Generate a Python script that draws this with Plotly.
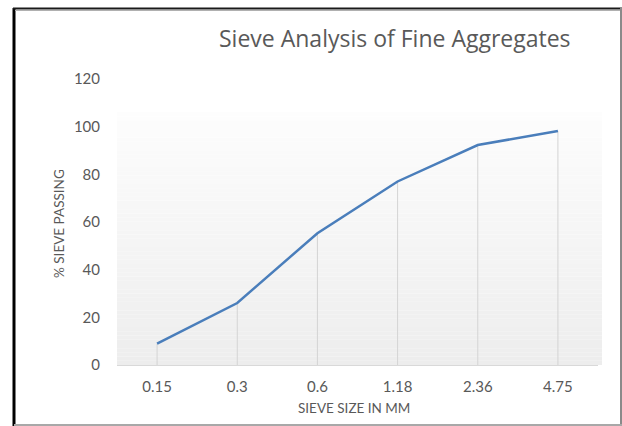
import plotly.graph_objects as go

sieve_sizes = ["0.15", "0.3", "0.6", "1.18", "2.36", "4.75"]
pct_passing = [9, 26, 55.3, 77, 92.3, 98.2]
y_ticks = [0, 20, 40, 60, 80, 100, 120]

W, H = 622, 426
ML, MR, MT, MB = 117, 24, 79, 61
PW, PH = W - ML - MR, H - MT - MB


def px2x(px):
    return (px - ML) / PW


def px2y(py):
    return (H - MB - py) / PH


FONT = "Lato"
GRAY_TXT = "#595959"

fig = go.Figure()

# drop lines
dx, dy = [], []
for c, v in zip(sieve_sizes, pct_passing):
    dx += [c, c, None]
    dy += [0, v, None]
fig.add_trace(go.Scatter(x=dx, y=dy, mode="lines",
                         line=dict(color="#d4d4d4", width=1),
                         hoverinfo="skip", showlegend=False))

fig.add_trace(go.Scatter(x=sieve_sizes, y=pct_passing, mode="lines",
                         line=dict(color="#4a7ebb", width=2.5),
                         showlegend=False))

shapes = []
# gradient plot-area background
n = 60
top_val = 106
for i in range(n):
    v0 = top_val * i / n
    v1 = top_val * (i + 1) / n
    t = (i + 0.5) / n
    g = round(237 + (253 - 237) * t)
    shapes.append(dict(type="rect", xref="paper", yref="y", x0=0, x1=px2x(602),
                       y0=v0, y1=v1, fillcolor=f"rgb({g},{g},{g})",
                       line=dict(width=0), layer="below"))

# outer frame
shapes += [
    dict(type="line", xref="paper", yref="paper", x0=px2x(14), x1=px2x(14),
         y0=px2y(8), y1=px2y(427), line=dict(color="#000000", width=3)),
    dict(type="line", xref="paper", yref="paper", x0=px2x(13), x1=px2x(623),
         y0=px2y(8.5), y1=px2y(8.5), line=dict(color="#1a1a1a", width=2)),
    dict(type="line", xref="paper", yref="paper", x0=px2x(15), x1=px2x(620),
         y0=px2y(10.5), y1=px2y(10.5), line=dict(color="#b0b0b0", width=1)),
    dict(type="line", xref="paper", yref="paper", x0=px2x(621), x1=px2x(621),
         y0=px2y(8), y1=px2y(427), line=dict(color="#8a8a8a", width=2)),
    dict(type="line", xref="paper", yref="paper", x0=px2x(14), x1=px2x(623),
         y0=px2y(425), y1=px2y(425), line=dict(color="#a8a8a8", width=2)),
]

annotations = [
    dict(text="Sieve Analysis of Fine Aggregates", xref="paper", yref="paper",
         x=px2x(395), y=px2y(38), xanchor="center", yanchor="middle",
         showarrow=False, font=dict(family="Open Sans", size=23, color=GRAY_TXT)),
    dict(text="SIEVE SIZE IN MM", xref="paper", yref="paper",
         x=px2x(354), y=px2y(408), xanchor="center", yanchor="middle",
         showarrow=False, font=dict(family=FONT, size=13.5, color=GRAY_TXT)),
    dict(text="% SIEVE PASSING", xref="paper", yref="paper", textangle=-90,
         x=px2x(59), y=px2y(224), xanchor="center", yanchor="middle",
         showarrow=False, font=dict(family=FONT, size=13.5, color=GRAY_TXT)),
]

fig.update_layout(
    width=W, height=H,
    margin=dict(l=ML, r=MR, t=MT, b=MB),
    paper_bgcolor="white", plot_bgcolor="white",
    shapes=shapes, annotations=annotations,
    xaxis=dict(type="category", categoryorder="array", categoryarray=sieve_sizes,
               range=[-0.5, 5.5], showgrid=False, zeroline=False,
               showline=True, linecolor="#d9d9d9", linewidth=1,
               ticks="", ticklabelstandoff=8,
               tickfont=dict(family=FONT, size=15, color=GRAY_TXT)),
    yaxis=dict(range=[0, 120], tickvals=y_ticks, showgrid=False, zeroline=False,
               showline=False, ticks="", ticklabelstandoff=16,
               tickfont=dict(family=FONT, size=15, color=GRAY_TXT)),
)

fig.write_html("out.html",
               config={"displayModeBar": False},
               post_script="document.body.style.margin='0';"
                           "document.body.style.overflow='hidden';")
